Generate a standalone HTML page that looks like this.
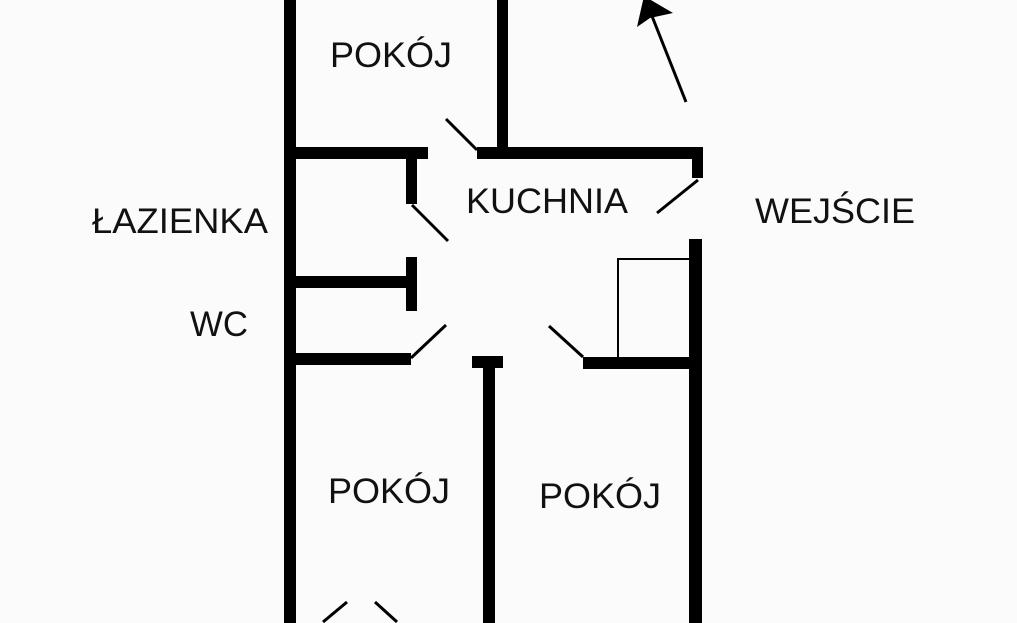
<!DOCTYPE html>
<html><head><meta charset="utf-8"><style>
html,body{margin:0;padding:0;background:#fbfbfb;}
svg{display:block;}
text{font-family:"Liberation Sans",sans-serif;font-size:35px;fill:#111;}
</style></head><body>
<svg width="1017" height="623" viewBox="0 0 1017 623" xmlns="http://www.w3.org/2000/svg">
<g fill="#000">
<!-- left outer wall -->
<rect x="284" y="0" width="12" height="623"/>
<!-- top room wall -->
<rect x="497" y="0" width="11" height="159"/>
<!-- horizontal wall top-left -->
<rect x="296" y="147" width="132" height="12"/>
<!-- horizontal wall top-right -->
<rect x="477" y="147" width="226" height="12"/>
<rect x="692" y="147" width="11" height="31"/>
<!-- bathroom door post -->
<rect x="406" y="159" width="11" height="45"/>
<!-- WC wall -->
<rect x="296" y="276" width="121" height="12"/>
<rect x="406" y="257" width="11" height="54"/>
<!-- right wall -->
<rect x="689" y="239" width="13" height="384"/>
<!-- WC bottom wall -->
<rect x="296" y="353" width="115" height="12"/>
<!-- T wall -->
<rect x="472" y="356" width="31" height="12"/>
<rect x="483" y="356" width="12" height="267"/>
<!-- right bottom wall -->
<rect x="583" y="357" width="119" height="12"/>
</g>
<g stroke="#000" stroke-width="3" fill="none">
<line x1="446" y1="119" x2="477" y2="150"/>
<line x1="412" y1="205" x2="448" y2="241"/>
<line x1="698" y1="180" x2="657" y2="213"/>
<line x1="411" y1="358" x2="446" y2="325"/>
<line x1="583" y1="357" x2="549" y2="326"/>
<line x1="323" y1="622" x2="347" y2="602"/>
<line x1="375" y1="602" x2="397" y2="622"/>
<line x1="686" y1="102" x2="648" y2="6"/>
</g>
<rect x="618" y="259" width="72" height="99" fill="none" stroke="#000" stroke-width="2"/>
<polygon points="644,-4 637,27 650,18 673,13" fill="#000"/>
<text x="330" y="67" textLength="122" lengthAdjust="spacingAndGlyphs">POKÓJ</text>
<text x="466" y="213" textLength="162" lengthAdjust="spacingAndGlyphs">KUCHNIA</text>
<text x="755" y="223" textLength="160" lengthAdjust="spacingAndGlyphs">WEJŚCIE</text>
<text x="92" y="233" textLength="176" lengthAdjust="spacingAndGlyphs">ŁAZIENKA</text>
<text x="190" y="336" textLength="58" lengthAdjust="spacingAndGlyphs">WC</text>
<text x="328" y="503" textLength="122" lengthAdjust="spacingAndGlyphs">POKÓJ</text>
<text x="539" y="508" textLength="122" lengthAdjust="spacingAndGlyphs">POKÓJ</text>
</svg>
</body></html>
